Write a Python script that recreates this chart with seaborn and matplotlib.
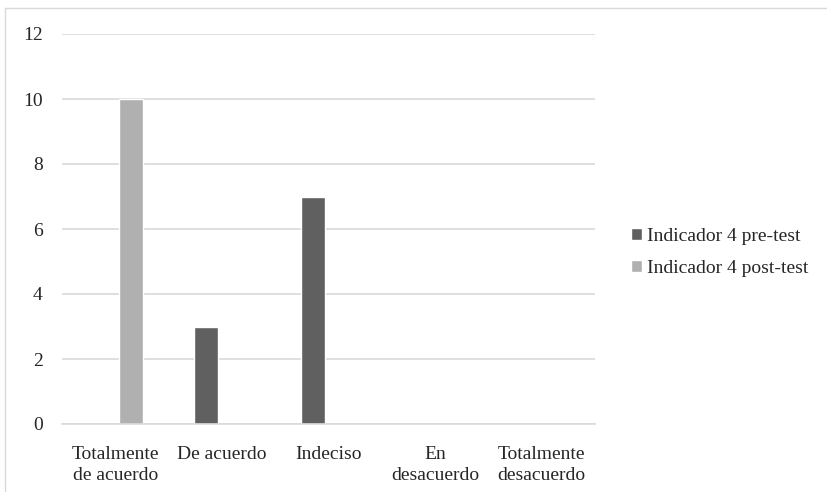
import matplotlib
matplotlib.use("Agg")
import matplotlib.pyplot as plt
from matplotlib.patches import Rectangle
import seaborn as sns
import pandas as pd

categories = ["Totalmente\nde acuerdo", "De acuerdo", "Indeciso", "En\ndesacuerdo", "Totalmente\ndesacuerdo"]
series_names = ["Indicador 4 pre-test", "Indicador 4 post-test"]
pre_test = [0, 3, 7, 0, 0]
post_test = [10, 0, 0, 0, 0]
y_ticks = [0, 2, 4, 6, 8, 10, 12]
colors = ["#606060", "#b0b0b0"]

df = pd.DataFrame({
    "categoria": categories * 2,
    "valor": pre_test + post_test,
    "serie": [series_names[0]] * len(categories) + [series_names[1]] * len(categories),
})

sns.set_theme(style="white")
plt.rcParams["font.family"] = ["Liberation Serif", "DejaVu Serif"]
text_color = "#262626"

fig = plt.figure(figsize=(8.28, 4.92), dpi=100)
ax = fig.add_axes([62 / 828, 1 - 424 / 492, (595 - 62) / 828, (424 - 34) / 492])

sns.barplot(data=df, x="categoria", y="valor", hue="serie", order=categories,
            hue_order=series_names, palette=colors, width=0.58, gap=0.22,
            saturation=1, ax=ax, legend=True)

ax.set_ylim(0, 12)
ax.set_yticks(y_ticks)
ax.set_xlim(-0.5, len(categories) - 0.5)
ax.yaxis.grid(True, color="#d9d9d9", linewidth=1.2)
ax.set_axisbelow(True)
for side in ["left", "right", "top"]:
    ax.spines[side].set_visible(False)
ax.spines["bottom"].set_color("#d9d9d9")
ax.spines["bottom"].set_linewidth(1.2)
ax.tick_params(axis="both", length=0, labelsize=14, colors=text_color)
ax.tick_params(axis="x", pad=16)
ax.tick_params(axis="y", pad=14)
for lbl in ax.get_xticklabels():
    lbl.set_linespacing(1.3)
ax.set_xlabel("")
ax.set_ylabel("")

handles, labels = ax.get_legend_handles_labels()
ax.legend(handles, labels, loc="center left", bbox_to_anchor=(1.035, 0.44),
          frameon=False, fontsize=14, handlelength=0.55, handleheight=0.55,
          handletextpad=0.25, labelspacing=0.8, labelcolor=text_color)

# thin frame around the chart area
fig.add_artist(Rectangle((5 / 828, -0.05), 1.1, 1 - 8 / 492 + 0.05,
                         transform=fig.transFigure, fill=False,
                         edgecolor="#d9d9d9", linewidth=1.0))

fig.savefig("out.png", dpi=100)
